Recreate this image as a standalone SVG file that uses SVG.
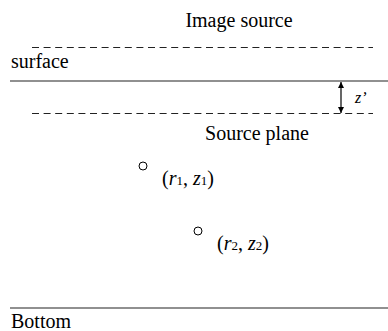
<svg xmlns="http://www.w3.org/2000/svg" width="388" height="331" viewBox="0 0 388 331">
<defs>
<style>
.t{font-family:'Liberation Serif','Times New Roman',Tinos,serif;font-size:20px;fill:#000}
.it{font-style:italic}
.sub{font-size:13px}
.solid{stroke:#222;stroke-width:1.2;fill:none}
.dash{stroke:#222;stroke-width:1;stroke-dasharray:7 4.6;fill:none}
.pt{stroke:#000;stroke-width:1;fill:#fff}
</style>
<marker id="ah" viewBox="0 0 10 10" refX="10" refY="5" markerWidth="6" markerHeight="6" orient="auto-start-reverse" markerUnits="userSpaceOnUse">
<path d="M0,0 L10,5 L0,10 z" fill="#000"/>
</marker>
</defs>
<rect width="388" height="331" fill="#fff"/>
<g id="connectors">
<line class="dash" x1="32" y1="47.5" x2="373" y2="47.5"/>
<line class="solid" x1="10" y1="81" x2="388" y2="81"/>
<line class="dash" x1="32" y1="113.5" x2="373" y2="113.5"/>
<line class="solid" x1="10" y1="308" x2="388" y2="308"/>
<line x1="341" y1="82" x2="341" y2="113" stroke="#000" stroke-width="1.2" marker-start="url(#ah)" marker-end="url(#ah)"/>
</g>
<g id="image-source"><text class="t" x="239" y="27" text-anchor="middle">Image source</text></g>
<g id="surface"><text class="t" x="11" y="68">surface</text></g>
<g id="zprime"><text class="t it" x="355" y="103" style="font-size:16px">z&#8217;</text></g>
<g id="source-plane"><text class="t" x="257" y="140" text-anchor="middle">Source plane</text></g>
<g id="point1"><circle class="pt" cx="143" cy="166" r="4"/><text class="t" x="162" y="185">(<tspan class="it">r</tspan><tspan class="sub">1</tspan>, <tspan class="it">z</tspan><tspan class="sub">1</tspan>)</text></g>
<g id="point2"><circle class="pt" cx="198" cy="231" r="4"/><text class="t" x="217" y="250">(<tspan class="it">r</tspan><tspan class="sub">2</tspan>, <tspan class="it">z</tspan><tspan class="sub">2</tspan>)</text></g>
<g id="bottom"><text class="t" x="11" y="328">Bottom</text></g>
</svg>
